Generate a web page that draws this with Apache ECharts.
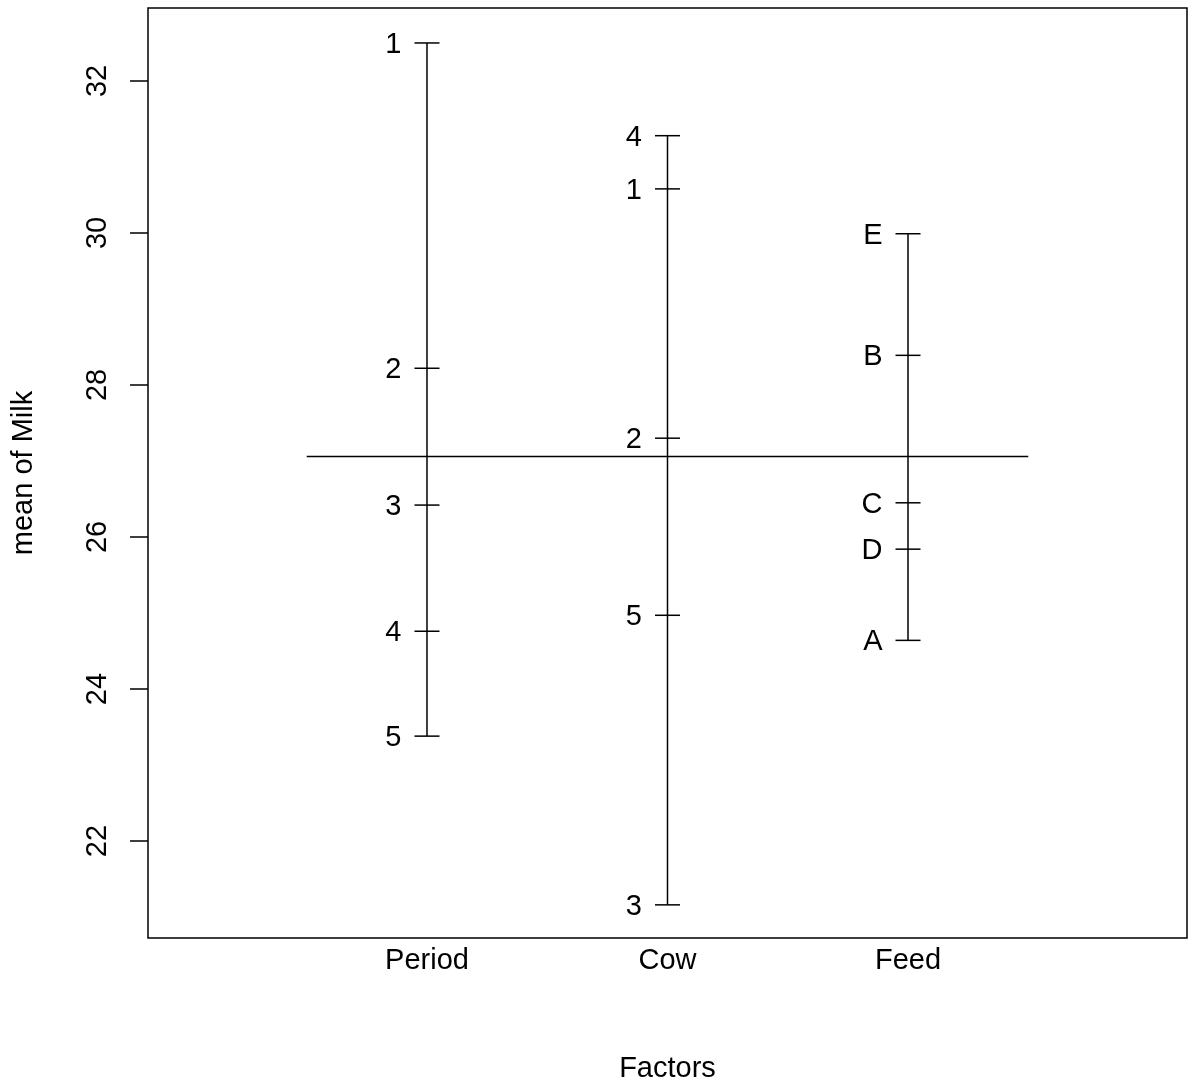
<!DOCTYPE html>
<html>
<head>
<meta charset="utf-8">
<script src="https://cdn.jsdelivr.net/npm/echarts@6/dist/echarts.min.js"></script>
<style>html,body{margin:0;padding:0;background:#fff}#c{width:1189px;height:1087px}</style>
</head>
<body>
<div id="c"></div>
<script>
const factors = ['Period', 'Cow', 'Feed'];
const periodLevels = ['1', '2', '3', '4', '5'];
const periodMeans = [32.50, 28.22, 26.42, 24.76, 23.38];
const cowLevels = ['1', '2', '3', '4', '5'];
const cowMeans = [30.58, 27.30, 21.16, 31.28, 24.97];
const feedLevels = ['A', 'B', 'C', 'D', 'E'];
const feedMeans = [24.64, 28.39, 26.45, 25.84, 29.99];
const grandMean = 27.06;
const yTicks = [22, 24, 26, 28, 30, 32];

const groups = [
  { levels: periodLevels, means: periodMeans },
  { levels: cowLevels, means: cowMeans },
  { levels: feedLevels, means: feedMeans }
];

const FONT = 'Liberation Sans, Arial, sans-serif';
const FS = 29;
const LW = 1.5;
const series = [];
groups.forEach((g, i) => {
  const x = i + 1;
  series.push({
    type: 'line', silent: true, symbol: 'none',
    lineStyle: { color: '#000', width: LW },
    data: [[x, Math.min(...g.means)], [x, Math.max(...g.means)]]
  });
  series.push({
    type: 'scatter', silent: true,
    symbol: 'rect', symbolSize: [25, LW],
    itemStyle: { color: '#000', opacity: 1 },
    label: {
      show: true, position: 'left', distance: 13, offset: [0, 2],
      formatter: p => p.data[2],
      color: '#000', opacity: 1, fontSize: FS, fontFamily: FONT
    },
    data: g.means.map((m, k) => [x, m, g.levels[k]])
  });
});
series.push({
  type: 'line', silent: true, symbol: 'none',
  lineStyle: { color: '#000', width: LW },
  data: [[0.5, grandMean], [3.5, grandMean]]
});

const chart = echarts.init(document.getElementById('c'), null, { renderer: 'canvas' });
chart.setOption({
  backgroundColor: '#fff',
  animation: false,
  grid: { left: 148, right: 2, top: 8, bottom: 149, outerBoundsMode: 'none', containLabel: false, show: true, borderColor: '#000', borderWidth: LW, backgroundColor: 'transparent' },
  xAxis: {
    type: 'value', min: -0.16, max: 4.16,
    name: 'Factors', nameLocation: 'middle', nameGap: 116,
    nameTextStyle: { color: '#000', fontSize: FS, fontFamily: FONT },
    axisLine: { show: false, onZero: false },
    axisTick: { show: false, customValues: [1, 2, 3] },
    splitLine: { show: false },
    axisLabel: {
      customValues: [1, 2, 3], margin: 8,
      formatter: v => factors[Math.round(v) - 1] || '',
      color: '#000', fontSize: FS, fontFamily: FONT
    }
  },
  yAxis: {
    type: 'value', min: 20.724, max: 32.96,
    name: 'mean of Milk', nameLocation: 'middle', nameGap: 110, nameRotate: 90,
    nameTextStyle: { color: '#000', fontSize: FS, fontFamily: FONT },
    axisLine: { show: false, onZero: false },
    axisTick: { show: true, customValues: yTicks, length: 18, lineStyle: { color: '#000', width: LW } },
    splitLine: { show: false },
    axisLabel: {
      customValues: yTicks, rotate: 90, margin: 36,
      color: '#000', fontSize: FS, fontFamily: FONT
    }
  },
  series: series
});
</script>
</body>
</html>
